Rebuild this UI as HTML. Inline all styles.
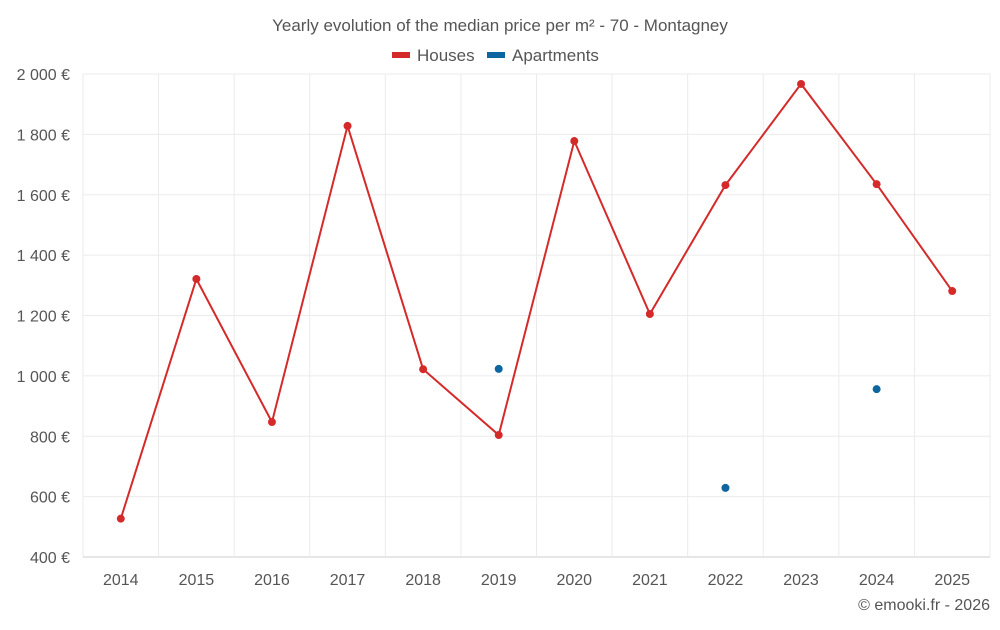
<!DOCTYPE html>
<html><head><meta charset="utf-8"><style>
body{margin:0;background:#fff;font-family:"Liberation Sans",sans-serif}
svg text{font-family:"Liberation Sans",sans-serif;fill:#555}
</style></head><body>
<svg id="chart" width="1000" height="625" xmlns="http://www.w3.org/2000/svg">
<text x="500" y="31" text-anchor="middle" font-size="17">Yearly evolution of the median price per m² - 70 - Montagney</text>
<g>
<g><rect x="392" y="52" width="18" height="6" fill="#d42a2a"/><text x="417" y="61" font-size="17">Houses</text></g>
<g><rect x="487" y="52" width="18" height="6" fill="#0d66a0"/><text x="512" y="61" font-size="17">Apartments</text></g>
</g>
<g id="grid"></g><g id="axes"></g><g id="series"></g>
<text x="990" y="610" text-anchor="end" font-size="16">© emooki.fr - 2026</text>
</svg>
<script>
const years=[2014,2015,2016,2017,2018,2019,2020,2021,2022,2023,2024,2025];
const houses=[527,1321,847,1828,1022,804,1778,1205,1632,1967,1635,1281];
const apartments=[null,null,null,null,null,1023,null,null,629,null,956,null];
const yTicks=[400,600,800,1000,1200,1400,1600,1800,2000];
const yTickLabels=["400 €","600 €","800 €","1 000 €","1 200 €","1 400 €","1 600 €","1 800 €","2 000 €"];
const L=83,R=990,T=74,B=557,ymin=400,ymax=2000;
const bw=(R-L)/years.length;
const xs=i=>L+bw*(i+0.5);
const ys=v=>B-(v-ymin)/(ymax-ymin)*(B-T);
const NS="http://www.w3.org/2000/svg";
function mk(tag,attrs,parent){const e=document.createElementNS(NS,tag);for(const k in attrs)e.setAttribute(k,attrs[k]);parent.appendChild(e);return e;}
const grid=document.getElementById('grid'),axes=document.getElementById('axes'),series=document.getElementById('series');
yTicks.forEach((t,i)=>{
 const l=mk('line',{x1:L,x2:R,y1:ys(t),y2:ys(t),stroke:i==0?'#ccc':'#ebebeb','stroke-width':1},grid);
 
 
 const tx=mk('text',{x:70,y:ys(t)+6,'text-anchor':'end','font-size':16},axes);
 tx.textContent=yTickLabels[i];
 
 
});
for(let i=0;i<=years.length;i++){
 const l=mk('line',{x1:L+bw*i,x2:L+bw*i,y1:T,y2:B+(i==0?0:0),stroke:'#ebebeb','stroke-width':1},grid);
 
 
}
years.forEach((y,i)=>{
 const tx=mk('text',{x:xs(i),y:585,'text-anchor':'middle','font-size':16},axes);
 tx.textContent=y;
 
 
});
const pts=houses.map((v,i)=>xs(i)+','+ys(v)).join(' ');
const pl=mk('polyline',{points:pts,fill:'none',stroke:'#d42a2a','stroke-width':2},series);


houses.forEach((v,i)=>{
 const c=mk('circle',{cx:xs(i),cy:ys(v),r:4,fill:'#d42a2a'},series);
 
 
});
apartments.forEach((v,i)=>{
 if(v==null)return;
 const c=mk('circle',{cx:xs(i),cy:ys(v),r:4,fill:'#0d66a0'},series);
 
 
});
</script>
</body></html>
